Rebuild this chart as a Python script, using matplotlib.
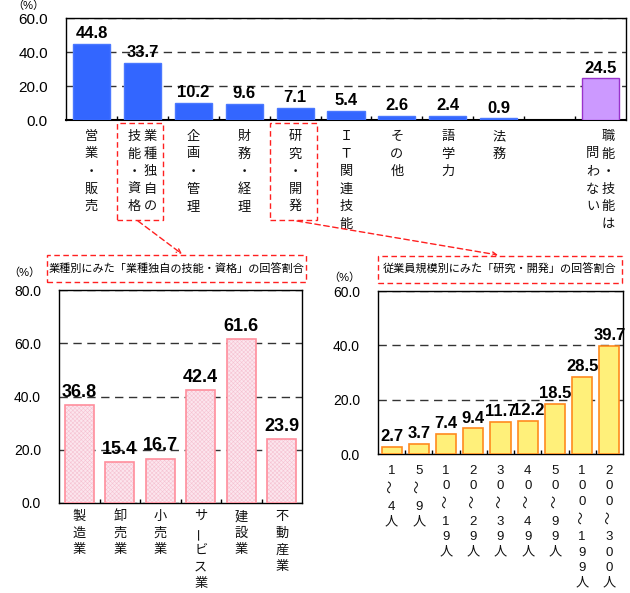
import matplotlib
matplotlib.use('Agg')
import matplotlib.pyplot as plt
import matplotlib.transforms as mtransforms
from matplotlib.patches import Rectangle, FancyArrowPatch
import numpy as np

plt.rcParams['font.family'] = ['Liberation Sans', 'Noto Sans CJK JP']
plt.rcParams['hatch.linewidth'] = 0.4

# ---------------- data ----------------
top_labels = ["営業・販売", "業種独自の\n技能・資格", "企画・管理", "財務・経理", "研究・開発",
              "ＩＴ関連技能", "その他", "語学力", "法務", "職能・技能は\n　問わない"]
top_values = [44.8, 33.7, 10.2, 9.6, 7.1, 5.4, 2.6, 2.4, 0.9, 24.5]

ind_labels = ["製造業", "卸売業", "小売業", "サービス業", "建設業", "不動産業"]
ind_values = [36.8, 15.4, 16.7, 42.4, 61.6, 23.9]

size_labels = ["1〜4人", "5〜9人", "10〜19人", "20〜29人", "30〜39人", "40〜49人",
               "50〜99人", "100〜199人", "200〜300人"]
size_values = [2.7, 3.7, 7.4, 9.4, 11.7, 12.2, 18.5, 28.5, 39.7]

caption_left = "業種別にみた「業種独自の技能・資格」の回答割合"
caption_right = "従業員規模別にみた「研究・開発」の回答割合"

W, H = 630, 593
fig = plt.figure(figsize=(W / 100, H / 100), dpi=100)


def fx(px):
    return px / W


def fy(py):
    return 1 - py / H


def vlabel(ax, x, text, y0, step, fs, col_dx=8, wave_extra=0):
    cols = text.split('\n')
    n = len(cols)
    for ci, col in enumerate(cols):
        dx = 0 if n == 1 else (col_dx if ci == 0 else -col_dx)
        y = y0
        for ch in col:
            if ch != '　':
                rot = 90 if ch in 'ー〜' else 0
                tr = mtransforms.offset_copy(ax.get_xaxis_transform(), fig=fig,
                                             x=dx, y=-y, units='dots')
                ax.text(x, 0, ch, transform=tr, ha='center', va='center',
                        fontsize=fs, rotation=rot, clip_on=False, color='#111111')
            y += step
            if ch == '〜':
                y += wave_extra


def style_axes(ax, ymax, ystep, fs_tick, nslots):
    ax.set_ylim(0, ymax)
    ax.set_xlim(-0.5, nslots - 0.5)
    yt = np.arange(0, ymax + 0.1, ystep)
    ax.set_yticks(yt)
    ax.set_yticklabels([f"{v:.1f}" for v in yt], fontsize=fs_tick)
    ax.tick_params(axis='y', length=0, pad=13)
    ax.set_xticks([])
    ax.set_xticks(np.arange(0.5, nslots - 1), minor=True)
    ax.tick_params(axis='x', which='minor', direction='in', length=3, width=1)
    ax.grid(axis='y', linestyle=(0, (6, 4)), color='#333333', lw=1)
    ax.set_axisbelow(True)
    for s in ax.spines.values():
        s.set_color('black')
        s.set_linewidth(1)


# ---------------- top chart ----------------
ax1 = fig.add_axes([fx(66), fy(120), fx(626) - fx(66), fy(18) - fy(120)])
nslots_top = len(top_values) + 1
xpos_top = list(range(len(top_values) - 1)) + [len(top_values)]
colors_top = ['#3366FF'] * (len(top_values) - 1) + ['#CC99FF']
edges_top = ['#4A78FF'] * (len(top_values) - 1) + ['#9933CC']
ax1.bar(xpos_top, top_values, width=0.73, color=colors_top, edgecolor=edges_top, lw=1, zorder=3)
style_axes(ax1, 60, 20, 11, nslots_top)
ax1.spines['bottom'].set_linewidth(1.5)
for x, v in zip(xpos_top, top_values):
    ax1.annotate(f"{v:.1f}", (x, v), xytext=(0, 2), textcoords='offset points',
                 ha='center', va='bottom', fontsize=12, fontweight='bold')
for x, lab in zip(xpos_top, top_labels):
    vlabel(ax1, x, lab, 17, 17.5, 9.5, col_dx=8)
fig.text(fx(28), fy(6), "（%）", ha='center', va='center', fontsize=8)

# ---------------- bottom left ----------------
ax2 = fig.add_axes([fx(59), fy(503), fx(302) - fx(59), fy(290) - fy(503)])
x2 = np.arange(len(ind_values))
ax2.bar(x2, ind_values, width=0.72, facecolor='#FCE6EE', edgecolor='#F6C2D2',
        hatch='xxxxxxxx', lw=0, zorder=3)
ax2.bar(x2, ind_values, width=0.72, fill=False, edgecolor='#FF8E9C', lw=1.2, zorder=4)
style_axes(ax2, 80, 20, 10, len(ind_values))
for x, v in zip(x2, ind_values):
    ax2.annotate(f"{v:.1f}", (x, v), xytext=(0, 3), textcoords='offset points',
                 ha='center', va='bottom', fontsize=13, fontweight='bold')
for x, lab in zip(x2, ind_labels):
    vlabel(ax2, x, lab, 14, 16.7, 9.5)
fig.text(fx(24), fy(273), "（%）", ha='center', va='center', fontsize=8)

# ---------------- bottom right ----------------
ax3 = fig.add_axes([fx(378), fy(454), fx(623) - fx(378), fy(291) - fy(454)])
x3 = np.arange(len(size_values))
ax3.bar(x3, size_values, width=0.74, color='#FFF07A', edgecolor='#FF8A1E', lw=1.2, zorder=3)
style_axes(ax3, 60, 20, 10, len(size_values))
for x, v in zip(x3, size_values):
    ax3.annotate(f"{v:.1f}", (x, v), xytext=(0, 2), textcoords='offset points',
                 ha='center', va='bottom', fontsize=12, fontweight='bold')
for x, lab in zip(x3, size_labels):
    vlabel(ax3, x, lab, 17, 15.3, 9.5, wave_extra=5)
fig.text(fx(344), fy(278), "（%）", ha='center', va='center', fontsize=8)

# ---------------- callout boxes and connectors ----------------
red = '#FF2020'
dash = (0, (4, 2.5))


def rect(x0, y0, x1, y1):
    fig.add_artist(Rectangle((fx(x0), fy(y1)), fx(x1) - fx(x0), fy(y0) - fy(y1),
                             transform=fig.transFigure, fill=False,
                             edgecolor=red, lw=1, linestyle=dash))


rect(117, 123, 163, 220)
rect(270, 123, 317, 220)
rect(47, 255, 306, 282)
rect(378, 256, 622, 283)
fig.text(fx(176), fy(268.5), caption_left, ha='center', va='center', fontsize=8)
fig.text(fx(500), fy(269.5), caption_right, ha='center', va='center', fontsize=8)

for (a, b) in [((138, 221), (182, 254)), ((297, 221), (498, 255))]:
    fig.add_artist(FancyArrowPatch((fx(a[0]), fy(a[1])), (fx(b[0]), fy(b[1])),
                                   transform=fig.transFigure,
                                   arrowstyle='->,head_length=3,head_width=1.5',
                                   color=red, lw=1, linestyle=dash,
                                   shrinkA=0, shrinkB=0))

fig.savefig('out.png', dpi=100)
